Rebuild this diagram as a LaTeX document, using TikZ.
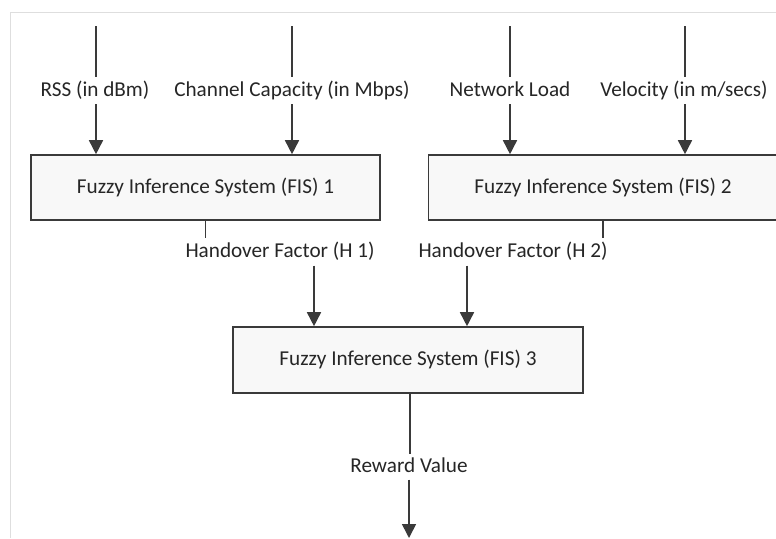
\documentclass[tikz,border=0pt]{standalone}
\usepackage{fontspec}
\setmainfont{Carlito}
\usetikzlibrary{arrows.meta,calc}
\definecolor{ink}{HTML}{3A3A3A}
\definecolor{frameline}{HTML}{DEDEDE}
\definecolor{boxfill}{HTML}{F8F8F8}
\tikzset{
  txt/.style={font=\fontsize{21.2}{25}\selectfont, text=black!85, text height=15pt, text depth=4pt},
  fis/.style={txt, draw=ink, line width=1.6pt, fill=boxfill, minimum width=349pt,
    minimum height=65pt, inner sep=0pt},
  lbl/.style={txt, inner sep=0pt, minimum height=27pt},
  wire/.style={draw=ink, line width=1.6pt},
  flow/.style={wire, -{Triangle[width=14pt,length=14pt]}}
}
\begin{document}
\begin{tikzpicture}[x=1pt,y=-1pt]
  \useasboundingbox[fill=white] (0,0) rectangle (776,538);
  % light frame along the top and left edge
  \draw[frameline, line width=1pt] (776,12) -- (10.5,12) -- (10.5,538);

  % inference boxes
  \node[fis] (f1) at (205.5,187.5) {Fuzzy Inference System (FIS) 1};
  \node[fis] (f2) at (603,187.5) {Fuzzy Inference System (FIS) 2};
  \node[fis, minimum width=350pt, minimum height=66pt] (f3) at (408,360) {Fuzzy Inference System (FIS) 3};

  % inputs of FIS 1 and FIS 2
  \coordinate (i1) at (96,26);
  \coordinate (i2) at (292,26);
  \coordinate (i3) at (510,26);
  \coordinate (i4) at (685,26);
  \node[lbl] (rss) at (95,90.5) {RSS (in dBm)};
  \node[lbl] (cap) at (292,90.5) {Channel Capacity (in Mbps)};
  \node[lbl] (load) at (510,90.5) {Network Load};
  \node[lbl] (vel) at (684,90.5) {Velocity (in m/secs)};
  \foreach \i/\l/\b in {i1/rss/f1, i2/cap/f1, i3/load/f2, i4/vel/f2}{
    \draw[wire] (\i) -- (\i |- \l.north);
    \draw[flow] (\i |- \l.south) -- (\i |- \b.north);
  }

  % handover factors into FIS 3
  \node[lbl] (h1) at (280,252) {Handover Factor (H 1)};
  \node[lbl] (h2) at (513,252) {Handover Factor (H 2)};
  \coordinate (a1) at (314,265);
  \coordinate (a2) at (467,265);
  \draw[wire] (f1.south) -- (f1.south |- h1.north);
  \draw[wire] (f2.south) -- (f2.south |- h2.north);
  \draw[flow] (a1 |- h1.south) -- (a1 |- f3.north);
  \draw[flow] (a2 |- h2.south) -- (a2 |- f3.north);

  % output of FIS 3
  \node[lbl, minimum height=25pt] (rw) at (409,467) {Reward Value};
  \coordinate (out) at (409,538);
  \draw[wire] ([xshift=2pt]f3.south) -- ([xshift=2pt]f3.south |- rw.north);
  \draw[flow] (out |- rw.south) -- (out);
\end{tikzpicture}
\end{document}
